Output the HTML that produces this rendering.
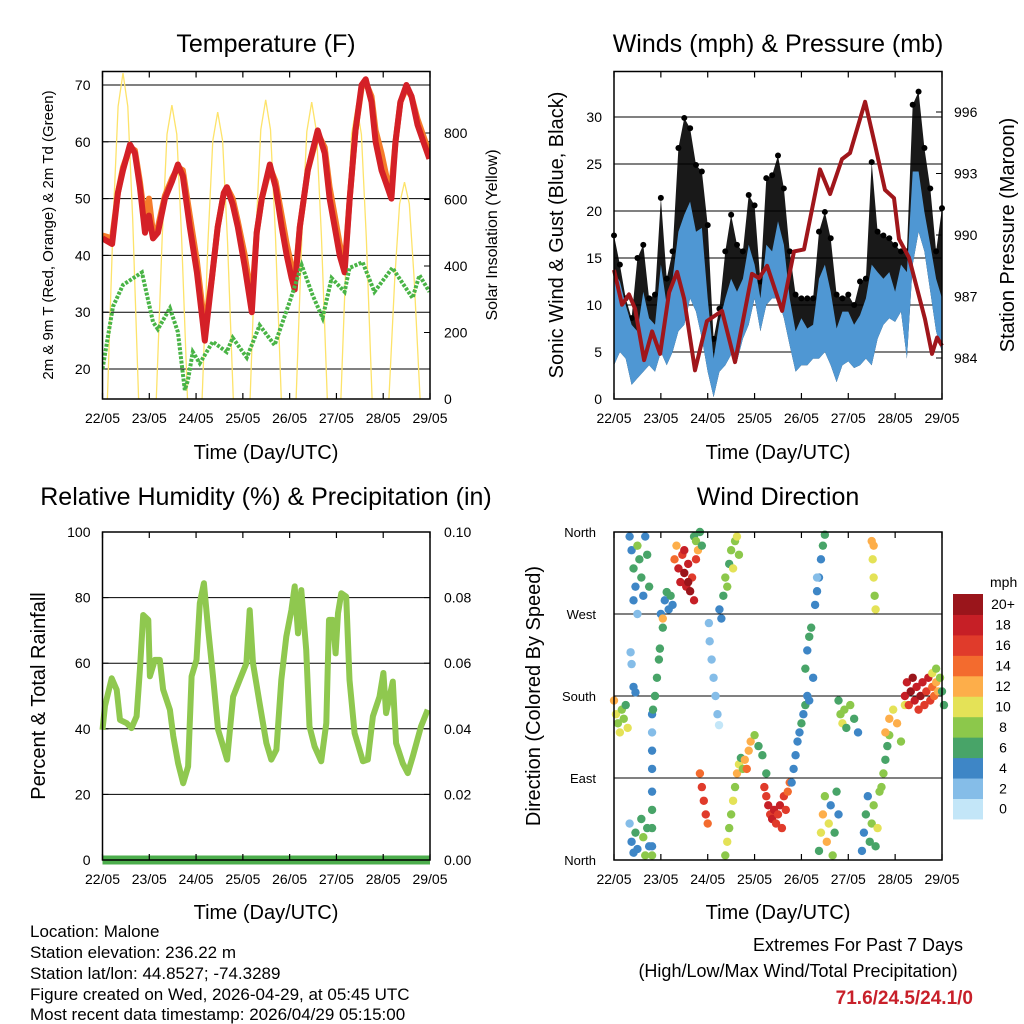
<!DOCTYPE html>
<html><head><meta charset="utf-8"><style>
body{margin:0;background:#fff}
svg{display:block;font-family:"Liberation Sans",sans-serif}
</style></head><body>
<svg id="svg" width="1024" height="1024" viewBox="0 0 1024 1024">
<rect width="1024" height="1024" fill="#fff"/>
<g id="g1"></g>
<g id="g2"></g>
<g id="g3"></g>
<g id="g4"></g>
<g id="txt">
<text x="266" y="52" font-size="25" text-anchor="middle">Temperature (F)</text>
<text x="778" y="52" font-size="25" text-anchor="middle">Winds (mph) &amp; Pressure (mb)</text>
<text x="266" y="505" font-size="25" text-anchor="middle">Relative Humidity (%) &amp; Precipitation (in)</text>
<text x="778" y="505" font-size="25" text-anchor="middle">Wind Direction</text>
<text x="266" y="459" font-size="20" text-anchor="middle">Time (Day/UTC)</text>
<text x="778" y="459" font-size="20" text-anchor="middle">Time (Day/UTC)</text>
<text x="266" y="919" font-size="20" text-anchor="middle">Time (Day/UTC)</text>
<text x="778" y="919" font-size="20" text-anchor="middle">Time (Day/UTC)</text>
<text transform="translate(53,235) rotate(-90)" font-size="15" text-anchor="middle">2m &amp; 9m T (Red, Orange) &amp; 2m Td (Green)</text>
<text transform="translate(497,235) rotate(-90)" font-size="16" text-anchor="middle">Solar Insolation (Yellow)</text>
<text transform="translate(563,235) rotate(-90)" font-size="20" text-anchor="middle">Sonic Wind &amp; Gust (Blue, Black)</text>
<text transform="translate(1014,235) rotate(-90)" font-size="20" text-anchor="middle">Station Pressure (Maroon)</text>
<text transform="translate(45,696) rotate(-90)" font-size="20" text-anchor="middle">Percent &amp; Total Rainfall</text>
<text transform="translate(540,696) rotate(-90)" font-size="20" text-anchor="middle">Direction (Colored By Speed)</text>
<g font-size="17">
<text x="30" y="937">Location: Malone</text>
<text x="30" y="958">Station elevation: 236.22 m</text>
<text x="30" y="979">Station lat/lon: 44.8527; -74.3289</text>
<text x="30" y="1000">Figure created on Wed, 2026-04-29, at 05:45 UTC</text>
<text x="30" y="1020">Most recent data timestamp: 2026/04/29 05:15:00</text>
</g>
<text x="858" y="951" font-size="18" text-anchor="middle">Extremes For Past 7 Days</text>
<text x="798" y="977" font-size="18" text-anchor="middle">(High/Low/Max Wind/Total Precipitation)</text>
<text x="973" y="1004" font-size="19" font-weight="bold" fill="#c8202a" text-anchor="end">71.6/24.5/24.1/0</text>
</g>
</svg>
<script>
// ---------- data ----------
const dayLabels=["22/05","23/05","24/05","25/05","26/05","27/05","28/05","29/05"];
const tempTicks=[20,30,40,50,60,70];
const solarTicks=[0,200,400,600,800];
const windTicks=[0,5,10,15,20,25,30];
const presTicks=[984,987,990,993,996];
const rhTicks=[0,20,40,60,80,100];
const rainTickLabels=["0.00","0.02","0.04","0.06","0.08","0.10"];
const dirTicks=[0,90,180,270,360];
const dirTickLabels=["North","East","South","West","North"];
const cbLabels=["0","2","4","6","8","10","12","14","16","18","20+"];
const cbColors=["#c3e6f8","#85bde8","#3e86c6","#48a468","#8cc84b","#e4e257","#fdae4a","#f36b2e","#e03b2b","#c61f26","#9a151b"];

const tempHours=[0,4.9,7.9,10.5,14.1,16.6,19.2,21.8,23.8,25.9,28.4,32.0,35.6,38.7,41.2,44.8,48.4,51.5,52.5,56.1,59.1,62.2,63.8,66.8,69.4,73.0,76.6,79.1,81.7,85.8,88.8,91.9,94.5,97.0,98.6,101.2,105.3,110.4,114.0,116.5,119.1,121.7,124.2,126.8,129.8,132.9,135.0,138.0,140.1,143.1,146.2,148.2,150.3,152.8,155.9,158.5,161.6,164.6,167.7];
const temp2m=[43,42,51,55,59.5,58,52,44,47,43,44,50,53,56,54,45,37,28,25,36,45,51,52,49,45,38,30,44,50,56,52,45,40,36,34,45,55,62,58,50,45,40,37,50,62,70,71,67,60,55,52,50,60,67,70,68,63,60,57];
const temp9m=[43.5,43,51,55.5,59,58.5,53,46,50,44,45,50.5,53.5,55.5,55,47,39,30,27,36,45,51,52,50,46,40,32,44,50,55.5,53,47,42,38,35,45,55,61.5,59,52,47,42,38,50,62,69.5,70.5,68,62,58,53,52,60,67,69.5,68,64,61,58];
const dewHours=[0,5.4,10.5,20.2,25.9,28.4,34.6,38.7,42.2,43.8,46.3,49.9,56.6,63.7,66.8,74.0,80.6,88.3,96.0,102.2,107.8,112.9,117.5,124.2,126.7,133.4,139.5,148.7,159.0,162.6,167.7];
const dewVals=[20,31,34.8,37,28.3,27,30.7,26.5,16.3,18,23,21,24.8,23,25.5,22,27.7,24.2,31.8,38.3,33,29,36,33.6,37.8,38.8,33.6,37.8,32.5,36.5,33.6];
const solarHours=[2.5,5.5,8,10.5,13,15.5,18.5, 27.6,30.6,33.1,35.6,38.1,40.6,43.6, 51.1,54.1,56.6,59.1,61.6,64.1,67.1, 75.7,78.7,81.2,83.7,86.2,88.7,91.7, 99.3,102.3,104.8,107.3,109.8,112.3,115.3, 122.3,125.3,127.8,130.3,132.8,135.3,138.3, 146.9,149.9,152.4,154.9,157.4,159.9,162.9];
const solarVals=[0,540,880,980,880,540,0, 0,486,796,884,796,486,0, 0,475,777,863,777,475,0, 0,495,810,900,810,495,0, 0,491,804,893,804,491,0, 0,486,796,884,796,486,0, 0,359,587,652,587,359,0];

const windHours=[0,3,6,9,12,15,18,21,24,27,30,33,36,39,42,45,48,51,54,57,60,63,66,69,72,75,78,81,84,87,90,93,96,99,102,105,108,111,114,117,120,123,126,129,132,135,138,141,144,147,150,153,156,159,162,165,168];
const gustVals=[17.4,14.3,10.7,8.6,15.0,16.4,10.7,11.1,21.4,12.8,15.7,26.7,29.9,28.8,24.9,24.2,18.5,6.4,9.6,15.7,19.6,16.4,15.7,21.7,20.6,12.5,23.5,23.8,25.9,22.4,15.7,11.1,10.7,10.7,10.7,17.8,19.9,17.1,11.1,10.7,11.1,10.0,12.5,12.8,25.2,17.8,17.4,17.1,16.4,15.7,15.7,31.3,32.7,26.7,22.4,15.7,20.3];
const windHi=[13.5,12.5,10.0,7.9,7.2,11.4,8.6,7.9,14.3,10.0,12.8,17.8,19.6,21.0,17.8,18.2,10.7,4.3,8.2,10.7,12.8,11.4,12.8,16.4,14.3,10.7,16.4,15.7,18.9,16.4,10.7,7.2,8.6,7.5,7.9,12.8,14.3,11.4,7.5,9.3,9.3,7.9,8.9,10.7,14.3,13.5,12.8,13.5,11.4,14.3,13.5,24.2,24.2,19.9,16.4,12.8,10.7];
const windLo=[3.6,5.0,4.3,1.5,2.2,2.9,3.6,2.9,5.0,3.6,5.0,7.2,7.9,10.7,9.3,6.4,2.9,0.2,2.9,3.6,4.7,4.0,6.4,7.9,10.7,7.2,10.0,10.7,10.7,8.6,5.7,2.9,3.6,3.6,4.3,4.3,5.0,3.6,1.8,3.6,4.0,3.3,3.6,4.3,3.6,6.4,7.9,8.6,8.2,9.3,4.3,14.3,17.8,15.7,11.4,7.2,5.0];
const presHours=[0,4.1,7.7,10.8,15.4,19.5,23.6,28.2,32.3,35.9,41.5,47.6,55.3,62.0,70.7,74.3,78.4,86.1,92.2,97.3,105.5,110.7,116.8,120.9,128.6,133.7,138.8,143.4,146.0,151.1,159.3,162.9,165.5,168];
const presVals=[988.3,986.6,987.1,986.4,983.9,985.3,984.2,987.2,988.2,986.9,983.4,985.8,986.3,983.8,988.1,987.9,988.5,986.3,989.2,989.3,993.2,992.0,993.7,994.0,996.5,994.4,992.2,991.8,989.8,988.9,985.9,984.2,985.0,984.6];

const rhHours=[0,1.3,4.7,7.3,9.0,12.4,14.9,17.5,19.2,20.9,23.5,24.3,26.9,29.4,31.1,34.6,36.3,38.8,41.4,43.9,45.7,48.2,49.9,52.0,54.2,56.7,59.3,61.9,63.9,67.0,70.4,73.8,75.5,77.2,80.6,84.1,86.6,89.2,91.7,94.3,96.9,98.6,100.3,102.0,104.5,106.2,108.8,112.2,114.8,116.2,118.2,119.6,120.8,122.5,125.0,126.7,129.3,133.6,136.1,138.7,142.1,144.1,145.5,148.9,150.6,154.0,156.6,159.2,163.4,166.8];
const rhVals=[39.7,47,55.4,51.9,42.7,41.7,40.2,43.8,58,74.7,73.2,56,61,61,52,45.8,37.7,29.5,23.4,28.5,56,61,78.3,84.4,70.2,56,39.7,34.6,30.6,49.8,54.9,60,76.2,60,47.8,35.6,30.6,33.6,54.9,68.1,76.2,83.4,69.1,82.3,64.1,40.7,34.6,30.1,41.7,73.2,73.2,63,75.2,81.3,80.3,54.9,38.7,30.1,30.6,43.8,49.8,57,44.8,54.4,35.6,29.5,26.5,31.6,40.7,45.8];
const rainHours=[0,168];
const rainVals=[0,0];

const dirHours=[8,9,10,11,12,13,14,15,16,17,18,10,12, 8,9,10,11,12,14,15,16,17,18, 0,1,2,3,4,5,6,7, 8.5,9,10,11, 19.5,19.5,19.5,19.5,19.5,19.5,19.5,19.5,19.5, 20,21,22,23,23.5, 24,25,26,27,28,25,29,30, 31,32,33,34,35,36,37,38,39,40,41,42,43,36,38, 41,42,44,45, 48.6,49,50,51,52,53,53.8, 54,55,56,57,58,59,60,61,62,63,64, 44,45,46,47,48, 57,58,59,60,61,62,63,64,65,66, 67,68,69,70,72,74,76,78, 77,78,79,80,81,82,83,84,85,86,87,88,89,90, 91,92,93,94,95,96,97,98,99,100, 98,99,100,101,102, 103,104,105,106,107,108,104, 105,106,107,108,109,110,111,112,113,114,115, 115,116,117,118,119,121,123,125, 127,128,129,130,131,132,133,134,135,136, 132,132.5,133,133.5,134,133, 137,138,139,140,141, 139,141,143,145,147,149, 149,150,151,152,153,154,155,156,157,158,159,160,161,162,163,164,165,166, 163,165,167,168,169];
const dirVals=[355,340,320,300,345,330,310,290,355,335,300,285,270, 40,20,8,30,12,45,25,5,35,15, 175,160,150,140,165,155,170,145, 228,215,190,184, 160,140,120,100,75,55,35,15,5, 165,180,200,220,232, 270,255,285,294,275,265,290,280, 330,345,320,305,335,315,300,325,295,310,285,330,340,340,305, 355,350,360,345, 260,240,220,200,180,160,148, 275,265,290,310,300,325,340,320,350,355,335, 95,80,65,50,40, 5,20,35,50,65,80,95,105,112,100, 110,100,120,130,137,125,115,95, 80,70,60,50,45,55,40,50,60,35,70,55,75,85, 85,100,115,130,140,150,160,170,180,175, 210,230,245,255,200, 280,295,310,330,345,357,310, 10,30,50,70,20,40,60,5,30,75,50, 175,160,150,165,145,170,155,140, 10,30,50,70,20,40,60,15,35,75, 350,330,310,290,275,345, 80,95,110,125,137, 140,155,165,150,130,170, 180,195,170,185,200,175,190,165,180,195,170,185,200,175,190,180,195,185, 205,210,200,185,170];
const dirSpeeds=[4,5,6,4,8,6,7,4,5,7,6,4,3, 3,4,5,6,4,7,8,9,6,5, 12,10,9,10,8,9,7,10, 3,3,4,4, 5,3,4,4,4,6,6,4,8, 6,7,7,7,6, 5,6,5,6,4,13,6,5, 15,13,18,19,17,20,19,18,20,17,18,16,13,18,21, 7,8,7,7, 3,2,2,3,2,2,1, 4,5,7,8,9,7,8,10,9,10,8, 15,17,17,16,15, 8,11,9,8,10,9,12,11,7,8, 13,14,12,13,8,7,6,7, 16,17,18,17,19,18,16,17,18,16,16,17,15,14, 4,4,4,5,4,6,5,6,4,5, 6,5,7,6,4, 4,4,4,4,6,6,3, 6,10,13,8,12,11,5,9,7,6,4, 7,8,10,9,7,8,6,5, 4,4,6,5,7,9,8,6,10,8, 13,10,11,9,10,12, 8,8,7,7,8, 12,12,11,12,9,10, 18,19,17,20,21,18,19,17,20,18,17,16,18,16,15,14,13,12, 10,9,8,7,6];

// ---------- helpers ----------
const NS="http://www.w3.org/2000/svg";
function mk(parent,tag,attrs){const e=document.createElementNS(NS,tag);for(const k in attrs)e.setAttribute(k,attrs[k]);parent.appendChild(e);return e;}
function txt(parent,x,y,s,size,anchor){const t=mk(parent,"text",{x:x,y:y,"font-size":size,"text-anchor":anchor});t.textContent=s;return t;}
function linePath(xs,ys,fx,fy){return xs.map((h,i)=>(i?"L":"M")+fx(h).toFixed(1)+","+fy(ys[i]).toFixed(1)).join("");}

function frame(g,L,T,R,B,name){
  const r=mk(g,"rect",{x:L,y:T,width:R-L,height:B-T,fill:"none",stroke:"#000","stroke-width":1.5});
  
  
}
function xAxis(g,L,R,T,B){
  const fx=d=>L+d*(R-L)/7;
  dayLabels.forEach((s,i)=>{
    const x=fx(i);
    mk(g,"line",{x1:x,y1:B,x2:x,y2:B-6,stroke:"#000","stroke-width":1.2});
    mk(g,"line",{x1:x,y1:T,x2:x,y2:T+6,stroke:"#000","stroke-width":1.2});
    const t=txt(g,x,B+24,s,14,"middle");
    
    
  });
}
function grid(g,L,R,y){mk(g,"line",{x1:L,y1:y,x2:R,y2:y,stroke:"#000","stroke-width":1});}

// ---------- panel 1 ----------
(function(){
  const g=document.getElementById("g1");
  const L=102.5,R=430,T=71.5,B=399;
  const fx=h=>L+h*(R-L)/168, fy=v=>369-(v-20)*5.68, fs=v=>399-v*0.3325;
  const cpth=mk(g,"clipPath",{id:"c1"});
  mk(cpth,"rect",{x:L,y:T,width:R-L,height:B-T});
  tempTicks.forEach(v=>{grid(g,L,R,fy(v));mk(g,"line",{x1:L,y1:fy(v),x2:L+6,y2:fy(v),stroke:"#000"});const t=txt(g,L-12,fy(v)+5,String(v),14,"end");});
  solarTicks.forEach(v=>{mk(g,"line",{x1:R,y1:fs(v),x2:R-6,y2:fs(v),stroke:"#000"});const t=txt(g,R+14,fs(v)+5,String(v),14,"start");});
  const cg=mk(g,"g",{"clip-path":"url(#c1)"});
  const s=mk(cg,"path",{d:linePath(solarHours,solarVals,fx,fs),fill:"none",stroke:"#fde36a","stroke-width":1.3});
  
  const o=mk(cg,"path",{d:linePath(tempHours,temp9m,fx,fy),fill:"none",stroke:"#f57c2a","stroke-width":6,"stroke-linejoin":"round"});
  
  const r=mk(cg,"path",{d:linePath(tempHours,temp2m,fx,fy),fill:"none",stroke:"#d42027","stroke-width":6,"stroke-linejoin":"round"});
  
  const d=mk(cg,"path",{d:linePath(dewHours,dewVals,fx,fy),fill:"none",stroke:"#49b446","stroke-width":4,"stroke-dasharray":"3 1.5"});
  
  xAxis(g,L,R,T,B);
  frame(g,L,T,R,B,'temperature-plot-frame');
})();

// ---------- panel 2 ----------
(function(){
  const g=document.getElementById("g2");
  const L=614,R=942,T=71.5,B=399;
  const fx=h=>L+h*(R-L)/168, fy=v=>399-v*9.4, fp=p=>358-(p-984)*20.5;
  windTicks.forEach(v=>{if(v>0)grid(g,L,R,fy(v));mk(g,"line",{x1:L,y1:fy(v),x2:L+6,y2:fy(v),stroke:"#000"});const t=txt(g,L-12,fy(v)+5,String(v),14,"end");});
  presTicks.forEach(v=>{mk(g,"line",{x1:R,y1:fp(v),x2:R-6,y2:fp(v),stroke:"#000"});const t=txt(g,R+12,fp(v)+5,String(v),14,"start");});
  let top=windHours.map((h,i)=>fx(h).toFixed(1)+","+fy(gustVals[i]).toFixed(1));
  let bot=windHours.map((h,i)=>fx(h).toFixed(1)+","+fy(windLo[i]).toFixed(1)).reverse();
  const gb=mk(g,"polygon",{points:top.concat(bot).join(" "),fill:"#000",opacity:0.9});
  
  windHours.forEach((h,i)=>{const c=mk(g,"circle",{cx:fx(h),cy:fy(gustVals[i]),r:3,fill:"#000"});});
  top=windHours.map((h,i)=>fx(h).toFixed(1)+","+fy(windHi[i]).toFixed(1));
  const wb=mk(g,"polygon",{points:top.concat(bot).join(" "),fill:"#4f97d3"});
  
  const p=mk(g,"path",{d:linePath(presHours,presVals,fx,fp),fill:"none",stroke:"#a0161b","stroke-width":4,"stroke-linejoin":"round"});
  
  xAxis(g,L,R,T,B);
  frame(g,L,T,R,B,'winds-plot-frame');
})();

// ---------- panel 3 ----------
(function(){
  const g=document.getElementById("g3");
  const L=102.5,R=430,T=532,B=860;
  const fx=h=>L+h*(R-L)/168, fy=v=>860-v*3.28;
  rhTicks.forEach((v,i)=>{if(v>0&&v<100)grid(g,L,R,fy(v));mk(g,"line",{x1:L,y1:fy(v),x2:L+6,y2:fy(v),stroke:"#000"});mk(g,"line",{x1:R,y1:fy(v),x2:R-6,y2:fy(v),stroke:"#000"});
    const t=txt(g,L-12,fy(v)+5,String(v),14,"end");
    const t2=txt(g,R+14,fy(v)+5,rainTickLabels[i],14,"start");});
  const rh=mk(g,"path",{d:linePath(rhHours,rhVals,fx,fy),fill:"none",stroke:"#8fc84f","stroke-width":6,"stroke-linejoin":"round"});
  
  const rn=mk(g,"path",{d:linePath(rainHours,rainVals,fx,v=>860-v*3280),fill:"none",stroke:"#4cae4c","stroke-width":9});
  
  xAxis(g,L,R,T,B);
  frame(g,L,T,R,B,'humidity-plot-frame');
})();

// ---------- panel 4 ----------
(function(){
  const g=document.getElementById("g4");
  const L=614,R=942,T=532,B=860;
  const fx=h=>L+h*(R-L)/168, fy=d=>860-d*(328/360);
  dirTicks.forEach((d,i)=>{if(d>0&&d<360)grid(g,L,R,fy(d));mk(g,"line",{x1:L,y1:fy(d),x2:L+6,y2:fy(d),stroke:"#000"});
    const t=txt(g,L-18,fy(d)+5,dirTickLabels[i],13,"end");});
  dirHours.forEach((h,i)=>{
    const k=Math.min(10,Math.floor(dirSpeeds[i]/2));
    const c=mk(g,"circle",{cx:fx(h),cy:fy(dirVals[i]),r:4.2,fill:cbColors[k]});
    
    
  });
  xAxis(g,L,R,T,B);
  frame(g,L,T,R,B,'direction-plot-frame');
  const cbTop=594,cbH=20.45;
  const m=txt(g,990,587,"mph",14,"start");
  cbColors.forEach((c,i)=>{
    const y=cbTop+(10-i)*cbH;
    const r=mk(g,"rect",{x:953,y:y,width:30,height:cbH+0.5,fill:c});
    
    
    const t=txt(g,1003,y+cbH/2+5,cbLabels[i],14,"middle");
    
    
  });
})();
</script>
</body></html>
